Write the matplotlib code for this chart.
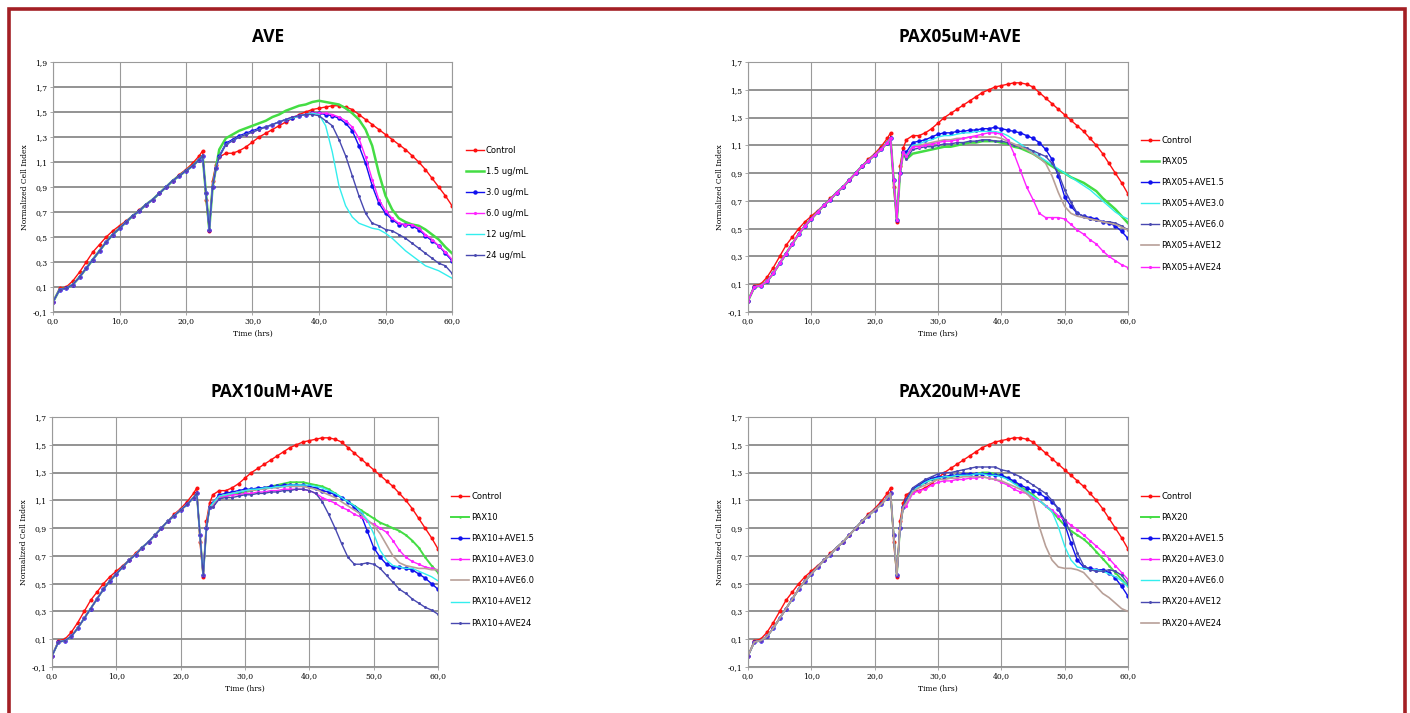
import matplotlib
matplotlib.use('Agg')
import matplotlib.pyplot as plt
from matplotlib.patches import Rectangle

# time points (hrs)
t = [0, 1, 2, 3, 4, 5, 6, 7, 8, 9, 10, 11, 12, 13, 14, 15, 16, 17, 18, 19, 20, 21, 22,
     22.5, 23, 23.5, 24, 24.5,
     25, 26, 27, 28, 29, 30, 31, 32, 33, 34, 35, 36, 37, 38, 39, 40, 41, 42,
     43, 44, 45, 46, 47, 48, 49, 50, 51, 52, 53, 54, 55, 56, 57, 58, 59, 60]

control = [-0.02, 0.09, 0.10, 0.15, 0.22, 0.30, 0.38, 0.44, 0.50, 0.55, 0.59, 0.63, 0.67,
           0.72, 0.76, 0.80, 0.85, 0.90, 0.95, 1.00, 1.04, 1.09, 1.15,
           1.19, 0.80, 0.55, 0.95, 1.08,
           1.14, 1.17, 1.17, 1.19, 1.22, 1.26, 1.30, 1.33, 1.36, 1.39, 1.42, 1.45, 1.48,
           1.50, 1.52, 1.53, 1.54, 1.55, 1.55, 1.54, 1.52, 1.48, 1.44, 1.40, 1.36, 1.32,
           1.28, 1.24, 1.20, 1.15, 1.10, 1.04, 0.97, 0.90, 0.83, 0.75]

# treated wells, 0 - 24.5 h (all nearly the same)
early = [-0.02, 0.08, 0.09, 0.12, 0.18, 0.25, 0.32, 0.39, 0.46, 0.52, 0.57, 0.62, 0.67,
         0.71, 0.76, 0.80, 0.85, 0.90, 0.95, 0.99, 1.03, 1.07, 1.12,
         1.15, 0.85, 0.56, 0.90, 1.05]

# 25 - 60 h
ave_15 = [1.20, 1.29, 1.32, 1.35, 1.37, 1.39, 1.41, 1.43, 1.46, 1.48, 1.51, 1.53, 1.55, 1.56,
          1.58, 1.59, 1.58, 1.57, 1.56, 1.53, 1.49, 1.44, 1.36, 1.23, 1.01, 0.83, 0.72, 0.65,
          0.62, 0.60, 0.59, 0.56, 0.52, 0.48, 0.42, 0.37]
ave_30 = [1.15, 1.25, 1.28, 1.31, 1.33, 1.35, 1.37, 1.38, 1.40, 1.42, 1.44, 1.45, 1.47, 1.48,
          1.49, 1.49, 1.48, 1.47, 1.45, 1.41, 1.35, 1.23, 1.09, 0.91, 0.77, 0.69, 0.64, 0.60,
          0.60, 0.59, 0.56, 0.51, 0.47, 0.43, 0.37, 0.31]
ave_60 = [1.14, 1.24, 1.27, 1.30, 1.32, 1.34, 1.36, 1.38, 1.40, 1.42, 1.44, 1.46, 1.47, 1.48,
          1.49, 1.49, 1.49, 1.48, 1.46, 1.43, 1.38, 1.29, 1.14, 0.96, 0.80, 0.71, 0.65, 0.61,
          0.60, 0.60, 0.57, 0.52, 0.48, 0.43, 0.38, 0.32]
ave_12 = [1.14, 1.24, 1.27, 1.30, 1.32, 1.34, 1.36, 1.38, 1.40, 1.42, 1.44, 1.45, 1.47, 1.48,
          1.49, 1.48, 1.39, 1.18, 0.91, 0.75, 0.66, 0.61, 0.59, 0.57, 0.56, 0.53, 0.49, 0.44,
          0.39, 0.35, 0.31, 0.27, 0.25, 0.23, 0.20, 0.17]
ave_24 = [1.14, 1.24, 1.27, 1.30, 1.32, 1.34, 1.36, 1.38, 1.40, 1.42, 1.44, 1.46, 1.47, 1.48,
          1.48, 1.47, 1.43, 1.39, 1.28, 1.15, 0.99, 0.83, 0.69, 0.61, 0.59, 0.56, 0.55, 0.52,
          0.49, 0.45, 0.41, 0.37, 0.33, 0.29, 0.27, 0.21]

p05 = [1.00, 1.04, 1.05, 1.06, 1.07, 1.08, 1.09, 1.09, 1.10, 1.11, 1.12, 1.12, 1.13, 1.13,
       1.13, 1.12, 1.11, 1.09, 1.08, 1.06, 1.04, 1.01, 0.98, 0.95, 0.92, 0.90, 0.87, 0.85,
       0.83, 0.80, 0.77, 0.72, 0.68, 0.64, 0.59, 0.54]
p05_15 = [1.05, 1.12, 1.13, 1.14, 1.16, 1.18, 1.19, 1.19, 1.20, 1.20, 1.21, 1.21, 1.22, 1.22,
          1.23, 1.22, 1.21, 1.20, 1.19, 1.17, 1.15, 1.12, 1.07, 1.00, 0.88, 0.73, 0.66, 0.61,
          0.59, 0.58, 0.57, 0.55, 0.54, 0.52, 0.48, 0.43]
p05_30 = [1.03, 1.10, 1.11, 1.13, 1.14, 1.16, 1.17, 1.17, 1.18, 1.19, 1.19, 1.20, 1.20, 1.20,
          1.20, 1.19, 1.17, 1.14, 1.11, 1.08, 1.05, 1.02, 0.99, 0.96, 0.93, 0.90, 0.87, 0.84,
          0.81, 0.78, 0.74, 0.70, 0.66, 0.62, 0.59, 0.57]
p05_60 = [1.00, 1.07, 1.08, 1.09, 1.09, 1.10, 1.11, 1.11, 1.12, 1.12, 1.13, 1.13, 1.14, 1.14,
          1.13, 1.13, 1.12, 1.10, 1.09, 1.08, 1.06, 1.04, 1.02, 0.97, 0.90, 0.78, 0.69, 0.61,
          0.59, 0.57, 0.56, 0.55, 0.55, 0.54, 0.52, 0.49]
p05_12 = [1.02, 1.09, 1.10, 1.11, 1.12, 1.13, 1.14, 1.14, 1.15, 1.15, 1.16, 1.16, 1.16, 1.16,
          1.16, 1.15, 1.13, 1.11, 1.09, 1.07, 1.04, 1.01, 0.97, 0.88, 0.76, 0.66, 0.61, 0.59,
          0.58, 0.57, 0.56, 0.55, 0.54, 0.53, 0.51, 0.49]
p05_24 = [1.02, 1.09, 1.09, 1.10, 1.11, 1.12, 1.13, 1.13, 1.14, 1.15, 1.16, 1.17, 1.18, 1.19,
          1.19, 1.18, 1.14, 1.04, 0.92, 0.80, 0.71, 0.61, 0.58, 0.58, 0.58, 0.57, 0.53, 0.49,
          0.46, 0.42, 0.39, 0.34, 0.30, 0.27, 0.24, 0.22]

p10 = [1.08, 1.12, 1.13, 1.14, 1.15, 1.16, 1.17, 1.18, 1.19, 1.20, 1.21, 1.22, 1.23, 1.23,
       1.23, 1.22, 1.21, 1.20, 1.18, 1.15, 1.12, 1.09, 1.06, 1.03, 1.00, 0.97, 0.94, 0.92,
       0.90, 0.88, 0.85, 0.81, 0.76, 0.69, 0.63, 0.58]
p10_15 = [1.08, 1.14, 1.15, 1.16, 1.17, 1.18, 1.18, 1.19, 1.19, 1.20, 1.20, 1.21, 1.21, 1.21,
          1.21, 1.20, 1.19, 1.17, 1.16, 1.14, 1.12, 1.09, 1.05, 1.00, 0.88, 0.76, 0.69, 0.64,
          0.62, 0.62, 0.61, 0.60, 0.57, 0.54, 0.50, 0.46]
p10_30 = [1.06, 1.12, 1.13, 1.14, 1.14, 1.15, 1.15, 1.16, 1.16, 1.17, 1.17, 1.18, 1.18, 1.18,
          1.18, 1.17, 1.15, 1.12, 1.10, 1.08, 1.05, 1.03, 1.00, 0.98, 0.95, 0.93, 0.90, 0.87,
          0.81, 0.74, 0.69, 0.66, 0.64, 0.62, 0.61, 0.60]
p10_60 = [1.07, 1.13, 1.14, 1.15, 1.16, 1.17, 1.17, 1.18, 1.18, 1.19, 1.19, 1.20, 1.20, 1.20,
          1.20, 1.19, 1.18, 1.16, 1.14, 1.12, 1.09, 1.06, 1.03, 1.00, 0.96, 0.92, 0.86, 0.78,
          0.70, 0.65, 0.63, 0.62, 0.61, 0.61, 0.60, 0.60]
p10_12 = [1.08, 1.13, 1.14, 1.15, 1.16, 1.17, 1.18, 1.18, 1.19, 1.19, 1.20, 1.20, 1.21, 1.21,
          1.21, 1.21, 1.20, 1.19, 1.17, 1.15, 1.12, 1.09, 1.06, 1.02, 0.96, 0.86, 0.74, 0.67,
          0.63, 0.62, 0.61, 0.61, 0.59, 0.57, 0.55, 0.52]
p10_24 = [1.05, 1.11, 1.12, 1.12, 1.13, 1.14, 1.14, 1.15, 1.15, 1.16, 1.16, 1.17, 1.17, 1.18,
          1.18, 1.17, 1.15, 1.09, 1.00, 0.90, 0.79, 0.69, 0.64, 0.64, 0.65, 0.64, 0.61, 0.56,
          0.51, 0.46, 0.43, 0.39, 0.36, 0.33, 0.31, 0.28]

p20 = [1.10, 1.17, 1.20, 1.23, 1.25, 1.26, 1.27, 1.27, 1.28, 1.28, 1.29, 1.29, 1.30, 1.30,
       1.29, 1.28, 1.26, 1.23, 1.20, 1.17, 1.14, 1.10, 1.06, 1.02, 0.97, 0.92, 0.88, 0.85,
       0.82, 0.78, 0.73, 0.68, 0.63, 0.58, 0.53, 0.48]
p20_15 = [1.10, 1.18, 1.21, 1.24, 1.26, 1.27, 1.27, 1.28, 1.28, 1.29, 1.29, 1.29, 1.29, 1.29,
          1.28, 1.28, 1.26, 1.24, 1.21, 1.19, 1.17, 1.15, 1.12, 1.09, 1.04, 0.93, 0.79, 0.67,
          0.62, 0.61, 0.60, 0.60, 0.58, 0.54, 0.48, 0.41]
p20_30 = [1.06, 1.15, 1.17, 1.18, 1.21, 1.23, 1.24, 1.24, 1.25, 1.25, 1.26, 1.26, 1.27, 1.26,
          1.25, 1.23, 1.21, 1.18, 1.16, 1.15, 1.12, 1.10, 1.06, 1.03, 0.99, 0.96, 0.92, 0.89,
          0.85, 0.81, 0.77, 0.73, 0.68, 0.63, 0.58, 0.53]
p20_60 = [1.09, 1.17, 1.20, 1.23, 1.25, 1.26, 1.27, 1.27, 1.28, 1.28, 1.28, 1.29, 1.29, 1.28,
          1.28, 1.27, 1.25, 1.22, 1.19, 1.16, 1.13, 1.10, 1.06, 1.02, 0.91, 0.77, 0.67, 0.62,
          0.61, 0.60, 0.60, 0.59, 0.57, 0.55, 0.52, 0.48]
p20_12 = [1.11, 1.19, 1.22, 1.25, 1.27, 1.29, 1.30, 1.30, 1.31, 1.32, 1.33, 1.34, 1.34, 1.34,
          1.34, 1.32, 1.31, 1.29, 1.27, 1.24, 1.21, 1.18, 1.15, 1.10, 1.04, 0.96, 0.86, 0.72,
          0.63, 0.60, 0.59, 0.59, 0.60, 0.59, 0.56, 0.50]
p20_24 = [1.08, 1.16, 1.19, 1.21, 1.23, 1.25, 1.25, 1.26, 1.26, 1.27, 1.27, 1.27, 1.27, 1.26,
          1.25, 1.24, 1.22, 1.20, 1.18, 1.15, 1.10, 0.91, 0.77, 0.67, 0.62, 0.61, 0.61, 0.60,
          0.58, 0.53, 0.48, 0.43, 0.40, 0.36, 0.32, 0.30]

# colours / marker styles per series kind
RED = '#ff1010'
GREEN = '#44dd44'
BLUE = '#1010ee'
MAG = '#ff22ff'
CYAN = '#33eeee'
SLATE = '#4848b0'
TAN = '#b8a098'

sty = {
    'red': dict(color=RED, marker='o', ms=2.9, lw=1.0),
    'green': dict(color=GREEN, marker=None, lw=1.8),
    'green_m': dict(color=GREEN, marker='o', ms=1.8, lw=1.4),
    'blue': dict(color=BLUE, marker='o', ms=3.2, lw=1.0),
    'mag': dict(color=MAG, marker='o', ms=2.3, lw=1.0),
    'cyan': dict(color=CYAN, marker=None, lw=1.0),
    'slate': dict(color=SLATE, marker='o', ms=2.1, lw=1.0),
    'tan': dict(color=TAN, marker=None, lw=1.2),
}

panels = [
    dict(title='AVE', rect=[53, 62, 452, 312], top=1.9, title_xy=(268, 37),
         leg_xy=(466, 146),
         series=[('Control', control, 'red'), ('1.5 ug/mL', early + ave_15, 'green'),
                 ('3.0 ug/mL', early + ave_30, 'blue'), ('6.0 ug/mL', early + ave_60, 'mag'),
                 ('12 ug/mL', early + ave_12, 'cyan'), ('24 ug/mL', early + ave_24, 'slate')]),
    dict(title='PAX05uM+AVE', rect=[748, 62, 1128, 312], top=1.7, title_xy=(960, 37),
         leg_xy=(1141, 136),
         series=[('Control', control, 'red'), ('PAX05', early + p05, 'green'),
                 ('PAX05+AVE1.5', early + p05_15, 'blue'), ('PAX05+AVE3.0', early + p05_30, 'cyan'),
                 ('PAX05+AVE6.0', early + p05_60, 'slate'), ('PAX05+AVE12', early + p05_12, 'tan'),
                 ('PAX05+AVE24', early + p05_24, 'mag')]),
    dict(title='PAX10uM+AVE', rect=[52, 417, 438, 667], top=1.7, title_xy=(272, 392),
         leg_xy=(451, 492),
         series=[('Control', control, 'red'), ('PAX10', early + p10, 'green_m'),
                 ('PAX10+AVE1.5', early + p10_15, 'blue'), ('PAX10+AVE3.0', early + p10_30, 'mag'),
                 ('PAX10+AVE6.0', early + p10_60, 'tan'), ('PAX10+AVE12', early + p10_12, 'cyan'),
                 ('PAX10+AVE24', early + p10_24, 'slate')]),
    dict(title='PAX20uM+AVE', rect=[748, 417, 1128, 667], top=1.7, title_xy=(960, 392),
         leg_xy=(1141, 492),
         series=[('Control', control, 'red'), ('PAX20', early + p20, 'green_m'),
                 ('PAX20+AVE1.5', early + p20_15, 'blue'), ('PAX20+AVE3.0', early + p20_30, 'mag'),
                 ('PAX20+AVE6.0', early + p20_60, 'cyan'), ('PAX20+AVE12', early + p20_12, 'slate'),
                 ('PAX20+AVE24', early + p20_24, 'tan')]),
]

W, H = 1410, 713
fig = plt.figure(figsize=(W / 100, H / 100), dpi=100)
fig.patch.set_facecolor('white')

# dark red frame
fig.patches.append(Rectangle((9 / W, -0.05), (1405 - 9) / W, 1 - 9 / H + 0.05,
                             transform=fig.transFigure, fill=False,
                             edgecolor='#a31f24', linewidth=2.6))

tick_font = dict(family='DejaVu Serif', size=5.5)

for p in panels:
    x0, y0, x1, y1 = p['rect']
    ax = fig.add_axes([x0 / W, 1 - y1 / H, (x1 - x0) / W, (y1 - y0) / H])
    for label, vals, key in p['series']:
        s = sty[key]
        ax.plot(t, vals, color=s['color'], lw=s['lw'], marker=s.get('marker'),
                ms=s.get('ms', 0), markeredgewidth=0, label=label)
    ax.set_xlim(0, 60)
    ax.set_ylim(-0.1, p['top'])
    xt = [0, 10, 20, 30, 40, 50, 60]
    ax.set_xticks(xt)
    ax.set_xticklabels([f'{v},0' for v in xt], fontdict=tick_font)
    yt = []
    v = -0.1
    while v <= p['top'] + 1e-9:
        yt.append(round(v, 1))
        v += 0.2
    ax.set_yticks(yt)
    ax.set_yticklabels([f'{v:.1f}'.replace('.', ',') for v in yt], fontdict=tick_font)
    ax.grid(axis='y', color='#8a8a8a', lw=1.3)
    ax.grid(axis='x', color='#9a9a9a', lw=0.8)
    ax.set_axisbelow(True)
    for sp in ax.spines.values():
        sp.set_color('#9a9a9a')
        sp.set_linewidth(0.8)
    ax.tick_params(length=2, width=0.6, color='#9a9a9a', pad=2)
    ax.set_xlabel('Time (hrs)', fontsize=5.5, family='DejaVu Serif', labelpad=3)
    ax.set_ylabel('Normalized Cell Index', fontsize=5.5, family='DejaVu Serif', labelpad=3)
    fig.text(p['title_xy'][0] / W, 1 - p['title_xy'][1] / H, p['title'],
             ha='center', va='center', fontsize=12.5, fontweight='bold', family='Open Sans')
    lx, ly = p['leg_xy']
    ax.legend(loc='upper left', bbox_to_anchor=(lx / W, 1 - ly / H),
              bbox_transform=fig.transFigure, frameon=False, fontsize=6,
              handlelength=2.2, handletextpad=0.2, labelspacing=1.45, numpoints=1,
              borderaxespad=0, borderpad=0)

fig.savefig('out.png', dpi=100, facecolor='white')
